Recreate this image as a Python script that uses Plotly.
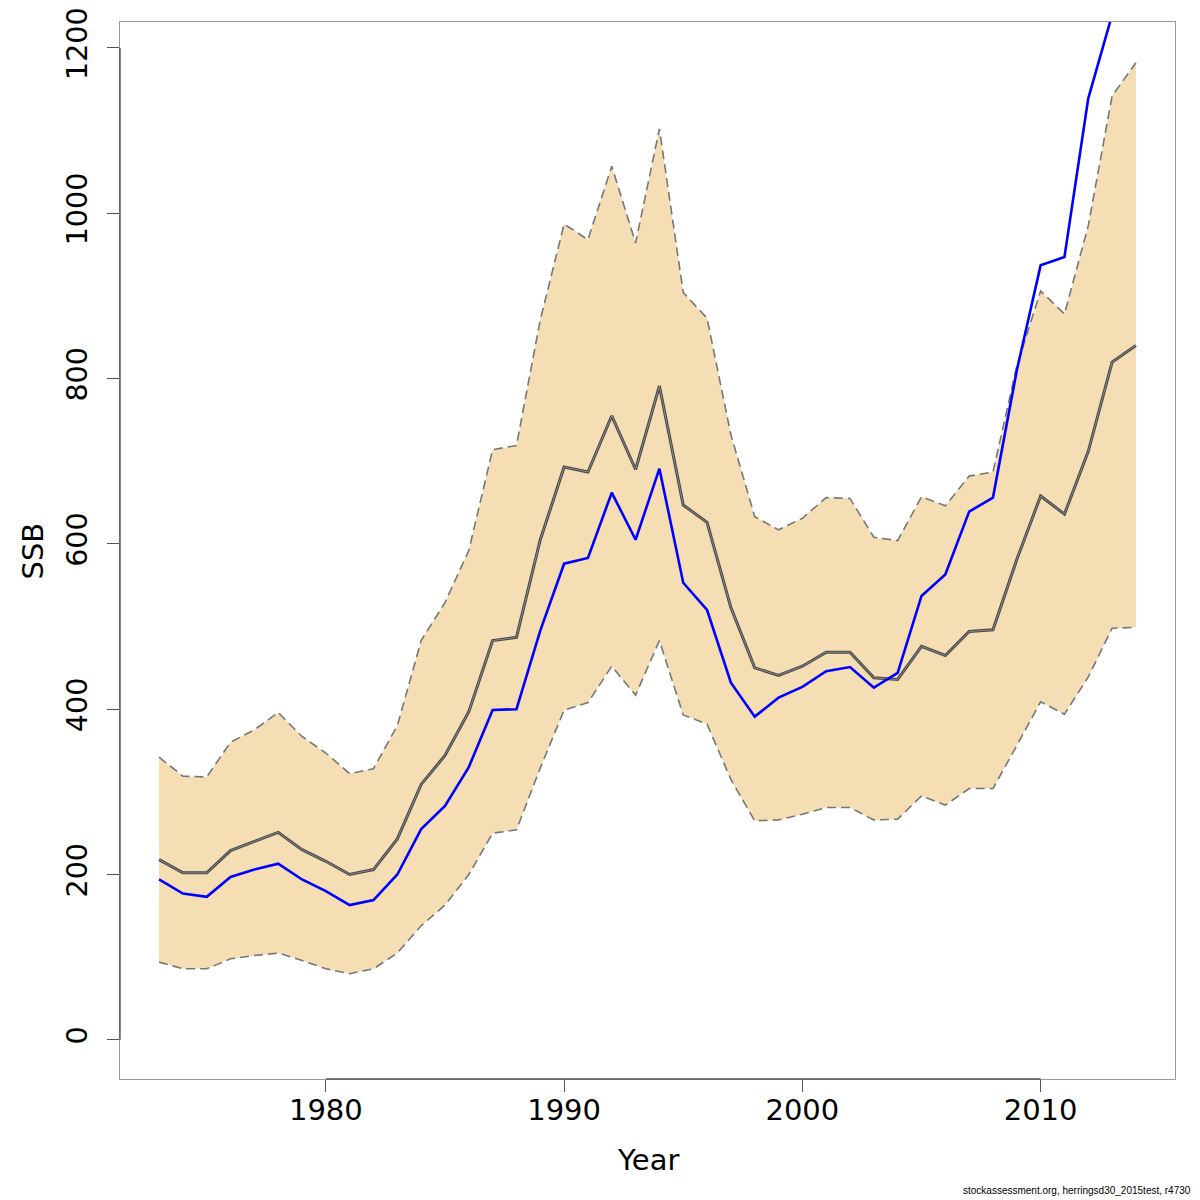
import plotly.graph_objects as go

years = list(range(1973, 2015))

ssb_est = [218, 202, 202, 229, 240, 251, 230, 216, 200, 206, 243, 309, 344, 397,
           483, 487, 605, 693, 687, 755, 690, 791, 647, 626, 523, 450, 441, 452,
           469, 469, 438, 436, 476, 465, 494, 496, 581, 658, 636, 712, 820, 840]

ssb_low = [94, 86, 86, 98, 102, 105, 96, 86, 80, 86, 105, 138, 163, 200,
           250, 254, 329, 399, 408, 452, 417, 483, 393, 382, 315, 265, 266, 273,
           281, 281, 266, 267, 295, 284, 304, 304, 356, 409, 394, 439, 498, 499]

ssb_high = [342, 319, 318, 360, 375, 396, 367, 347, 322, 328, 380, 483, 529, 592,
            714, 719, 871, 987, 968, 1057, 964, 1102, 904, 873, 732, 633, 617, 631,
            656, 655, 608, 604, 657, 646, 682, 687, 815, 906, 878, 985, 1142, 1182]

ssb_new = [194, 177, 173, 197, 206, 213, 194, 180, 163, 169, 200, 255, 283, 330,
           399, 400, 495, 576, 583, 662, 605, 691, 553, 520, 432, 391, 414, 427,
           446, 451, 426, 444, 537, 563, 639, 656, 810, 937, 947, 1139, 1240, 1340]

x_ticks = [1980, 1990, 2000, 2010]
y_ticks = [0, 200, 400, 600, 800, 1000, 1200]

FONT = "DejaVu Sans"
AX_DARK = "#555555"
BOX = "#9a9a9a"

fig = go.Figure()

fig.add_trace(go.Scatter(
    x=years + years[::-1], y=ssb_high + ssb_low[::-1],
    fill="toself", fillcolor="#F5DEB3", line=dict(width=0),
    mode="lines", hoverinfo="skip", showlegend=False))

for ser in (ssb_high, ssb_low):
    fig.add_trace(go.Scatter(
        x=years, y=ser, mode="lines",
        line=dict(color="#777777", width=1.6, dash="9px,5px"),
        showlegend=False))

fig.add_trace(go.Scatter(
    x=years, y=ssb_est, mode="lines",
    line=dict(color="#474747", width=3), showlegend=False))
fig.add_trace(go.Scatter(
    x=years, y=ssb_est, mode="lines",
    line=dict(color="#8a8a8a", width=1), showlegend=False))

fig.add_trace(go.Scatter(
    x=years, y=ssb_new, mode="lines",
    line=dict(color="#0000FF", width=2.6), showlegend=False))

# page has an 8px body margin, so the figure is 1192 px and margins are in figure px
fig.update_layout(
    width=1192, height=1192,
    margin=dict(l=112, r=25, t=14, b=121, pad=0, autoexpand=False),
    plot_bgcolor="white", paper_bgcolor="white",
    font=dict(family=FONT, color="black"),
    showlegend=False,
)

fig.update_xaxes(
    range=[1971.36, 2015.64], tickvals=x_ticks, ticktext=[str(v) for v in x_ticks],
    ticks="outside", ticklen=12, tickwidth=1.2, tickcolor=AX_DARK,
    tickfont=dict(size=29, family=FONT, color="black"),
    showgrid=False, zeroline=False,
    showline=True, linecolor=BOX, linewidth=1.2, mirror=True,
    ticklabelstandoff=-7, automargin=False, ticklabeloverflow="allow",
)
fig.update_yaxes(
    range=[-47.4, 1231.4], tickvals=y_ticks, ticktext=[str(v) for v in y_ticks],
    ticks="outside", ticklen=12, tickwidth=1.2, tickcolor=AX_DARK,
    tickangle=-90,
    tickfont=dict(size=28.5, family=FONT, color="black"),
    showgrid=False, zeroline=False,
    showline=True, linecolor=BOX, linewidth=1.2, mirror=True,
    ticklabelstandoff=9, automargin=False, ticklabeloverflow="allow",
)

# R-style axis lines spanning first to last tick
fig.add_shape(type="line", xref="x", yref="paper", x0=x_ticks[0], x1=x_ticks[-1],
              y0=0, y1=0, line=dict(color=AX_DARK, width=1.4))
fig.add_shape(type="line", xref="paper", yref="y", x0=0, x1=0,
              y0=y_ticks[0], y1=y_ticks[-1], line=dict(color=AX_DARK, width=1.4))

fig.add_annotation(text="Year", xref="paper", yref="paper", x=0.5, y=-0.0766,
                   xanchor="center", yanchor="middle", showarrow=False,
                   font=dict(size=29, family=FONT, color="black"))
fig.add_annotation(text="SSB", xref="paper", yref="paper", x=-0.0825, y=0.5,
                   xanchor="center", yanchor="middle", showarrow=False, textangle=-90,
                   font=dict(size=29, family=FONT, color="black"))
fig.add_annotation(text="stockassessment.org, herringsd30_2015test, r4730",
                   xref="paper", yref="paper", x=1.017, y=-0.1055,
                   xanchor="right", yanchor="middle", showarrow=False,
                   font=dict(size=10, family="Liberation Sans", color="black"))

fig.write_html("out.html")
